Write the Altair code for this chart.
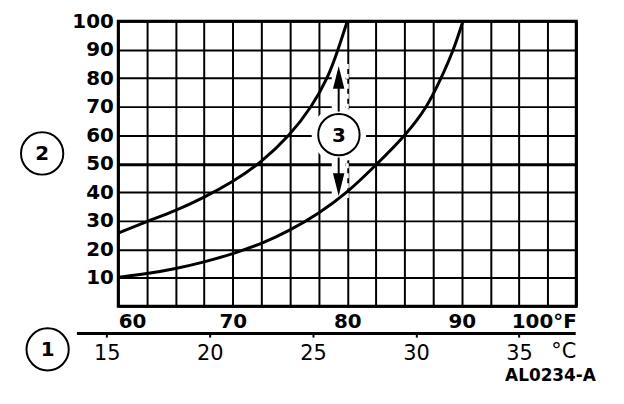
import altair as alt
import pandas as pd

# ---- data ----
# upper curve (deg F, value)
upper_f = [60, 62.5, 65, 67.5, 70, 72.5, 75, 76.9, 78.3, 79.2, 80]
upper_v = [25.7, 29.8, 33.5, 38.2, 43.6, 50.5, 60, 70, 80, 90, 100]
# lower curve (deg F, value)
lower_f = [60, 62.5, 65, 67.5, 70, 72.5, 75, 77.5, 80, 82.5, 85.1, 87.0, 88.2, 89.3, 90.1]
lower_v = [10.2, 11.4, 13.2, 15.5, 18.4, 21.9, 26.6, 32.5, 39.8, 49.5, 60, 70, 80, 90, 100]

f_grid = [60, 62.5, 65, 67.5, 70, 72.5, 75, 77.5, 80, 82.5, 85, 87.5, 90, 92.5, 95, 97.5, 100]
v_grid = [0, 10, 20, 30, 40, 50, 60, 70, 80, 90, 100]
c_ticks = [15, 20, 25, 30, 35]

# annotations (positions in data units)
circle_labels = ["1", "2"]
circle_f = [53.83, 53.35]
circle_v = [-15.1, 53.6]
marker3_label = ["3"]
marker3_f = [79.27]
marker3_v = [60.2]
arrow_f = 79.25
up_stem = [68.3, 77.0]
up_head = [80.3]
down_stem = [52.2, 45.5]
down_head = [42.7]
code_label = ["AL0234-A"]
code_pos = [97.75, -24.4]
c_line = [13.55, 37.75, -9.52]
c_unit = ["°C"]
c_unit_pos = [37.778, -16.2]

FONT = "DejaVu Sans"
W, H = 461, 287
xs = alt.Scale(domain=[60, 100], nice=False, zero=False)
ys = alt.Scale(domain=[0, 100], nice=False, zero=False)
c_lo, c_hi = (60 - 32) / 1.8, (100 - 32) / 1.8
c_left = c_line[0]
cs = alt.Scale(domain=[c_left, c_hi], nice=False, zero=False,
               range=[-(c_lo - c_left) * W / (c_hi - c_lo), W])

curves_df = pd.DataFrame({
    "F": upper_f + lower_f,
    "v": upper_v + lower_v,
    "curve": ["upper"] * len(upper_f) + ["lower"] * len(lower_f),
})

x_axis = alt.Axis(
    values=f_grid, grid=True, gridColor="black", gridWidth=2, gridOpacity=1,
    domain=False, ticks=False, tickSize=0, title=None, orient="bottom",
    labelExpr="datum.value === 100 ? '100°F' : (datum.value % 10 === 0 ? datum.label : '')",
    labelFlush=True, labelOverlap=False, labelFont=FONT, labelFontSize=20,
    labelFontWeight="bold", labelColor="black", labelPadding=5,
)
y_axis = alt.Axis(
    values=v_grid, grid=True, gridColor="black",
    gridWidth={"condition": {"test": "datum.value === 50", "value": 3.2}, "value": 2},
    gridOpacity=1, domain=False, ticks=False, tickSize=0, title=None,
    labelExpr="datum.value === 0 ? '' : datum.label",
    labelOverlap=False, labelFont=FONT, labelFontSize=20, labelFontWeight="bold",
    labelColor="black", labelPadding=5,
)


def Y(field):
    return alt.Y(field, scale=ys, axis=y_axis)


def XF(field):
    return alt.X(field, scale=xs, axis=None)


# white halos around the marker "3" and its arrows
halo_stem = alt.Chart(pd.DataFrame({"F": [arrow_f], "v1": [86], "v2": [38]})).mark_rule(
    color="white", strokeWidth=14, strokeCap="butt"
).encode(x=XF("F:Q"), y=Y("v1:Q"), y2="v2:Q")
halo_dash = alt.Chart(pd.DataFrame({"F": [80], "v1": [85], "v2": [38]})).mark_rule(
    color="white", strokeWidth=3, strokeDash=[5, 5]
).encode(x=XF("F:Q"), y=Y("v1:Q"), y2="v2:Q")
halo_circle = alt.Chart(pd.DataFrame({"F": marker3_f, "v": marker3_v})).mark_point(
    shape="circle", filled=True, color="white", opacity=1, size=3020
).encode(x=XF("F:Q"), y=Y("v:Q"))

curves = alt.Chart(curves_df).mark_line(
    color="black", strokeWidth=3, interpolate="basis"
).encode(
    x=alt.X("F:Q", scale=xs, axis=x_axis),
    y=Y("v:Q"),
    detail="curve:N",
)

stems = alt.Chart(pd.DataFrame({
    "F": [arrow_f, arrow_f], "v1": [up_stem[0], down_stem[0]], "v2": [up_stem[1], down_stem[1]]
})).mark_rule(color="black", strokeWidth=2).encode(x=XF("F:Q"), y=Y("v1:Q"), y2="v2:Q")
head_up = alt.Chart(pd.DataFrame({"F": [arrow_f], "v": up_head})).mark_point(
    shape="M0,-1L-0.5,1L0.5,1Z", filled=True, color="black", opacity=1, size=529
).encode(x=XF("F:Q"), y=Y("v:Q"))
head_down = alt.Chart(pd.DataFrame({"F": [arrow_f], "v": down_head})).mark_point(
    shape="M0,1L-0.5,-1L0.5,-1Z", filled=True, color="black", opacity=1, size=529
).encode(x=XF("F:Q"), y=Y("v:Q"))

marker3 = alt.Chart(pd.DataFrame({"F": marker3_f, "v": marker3_v})).mark_point(
    shape="circle", filled=True, fill="white", stroke="black", strokeWidth=2, opacity=1, size=1735
).encode(x=XF("F:Q"), y=Y("v:Q"))

circ_df = pd.DataFrame({"F": circle_f + marker3_f, "v": circle_v + marker3_v,
                        "label": circle_labels + marker3_label})
circles = alt.Chart(pd.DataFrame({"F": circle_f, "v": circle_v})).mark_point(
    shape="circle", filled=False, stroke="black", strokeWidth=2, opacity=1, size=1810
).encode(x=XF("F:Q"), y=Y("v:Q"))
circle_text = alt.Chart(circ_df).mark_text(
    font=FONT, fontSize=20, fontWeight="bold", color="black", align="center", baseline="middle", dy=1
).encode(x=XF("F:Q"), y=Y("v:Q"), text="label:N")

code_text = alt.Chart(pd.DataFrame({"F": [code_pos[0]], "v": [code_pos[1]], "label": code_label})).mark_text(
    font=FONT, fontSize=17, fontWeight="bold", color="black", align="center", baseline="middle"
).encode(x=XF("F:Q"), y=Y("v:Q"), text="label:N")

# Celsius scale under the plot
c_axis_layer = alt.Chart(pd.DataFrame({"C": [c_line[0]], "C2": [c_line[1]], "v": [c_line[2]]})).mark_rule(
    color="black", strokeWidth=3
).encode(
    x=alt.X("C:Q", scale=cs, axis=alt.Axis(
        orient="bottom", offset=27, values=c_ticks, domain=False, ticks=True, tickSize=4,
        tickWidth=2, tickColor="black", grid=False, title=None, labelFont=FONT,
        labelFontSize=21, labelColor="black", labelPadding=6, labelOverlap=False)),
    x2="C2:Q",
    y=Y("v:Q"),
)
c_unit_text = alt.Chart(pd.DataFrame({"C": [c_unit_pos[0]], "v": [c_unit_pos[1]], "label": c_unit})).mark_text(
    font=FONT, fontSize=21, color="black", align="right", baseline="middle"
).encode(x=alt.X("C:Q", scale=cs, axis=None), y=Y("v:Q"), text="label:N")

chart = alt.layer(
    halo_stem, halo_dash, halo_circle, curves, stems, head_up, head_down, marker3,
    circles, circle_text, code_text, c_axis_layer, c_unit_text
).resolve_scale(x="independent").resolve_axis(x="independent").properties(
    width=W, height=H,
    padding={"left": 111, "top": 12, "right": 40, "bottom": 90},
    autosize=alt.AutoSizeParams(type="none"),
    background="white",
).configure_view(stroke="black", strokeWidth=3)

chart.save("out.html", embed_options={"renderer": "svg", "actions": False})
